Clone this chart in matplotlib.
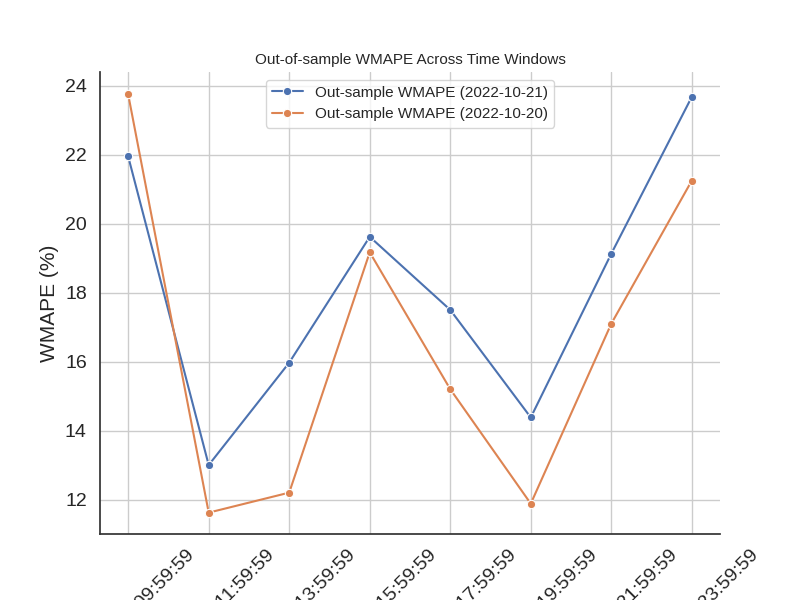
import matplotlib
matplotlib.use("Agg")
import matplotlib.pyplot as plt
import seaborn as sns

windows = ["2022-10-21 09:59:59", "2022-10-21 11:59:59", "2022-10-21 13:59:59",
           "2022-10-21 15:59:59", "2022-10-21 17:59:59", "2022-10-21 19:59:59",
           "2022-10-21 21:59:59", "2022-10-21 23:59:59"]
wmape_1021 = [21.95, 13.0, 15.97, 19.62, 17.5, 14.38, 19.13, 23.68]
wmape_1020 = [23.75, 11.62, 12.2, 19.17, 15.2, 11.88, 17.1, 21.25]

sns.set_theme(style="white")
plt.rcParams['font.family'] = ['Liberation Sans', 'DejaVu Sans']
fig, ax = plt.subplots(figsize=(8, 6), dpi=100)
x = range(len(windows))
ax.plot(x, wmape_1021, marker='o', markersize=6, markeredgecolor='white', markeredgewidth=0.8,
        color='#4c72b0', label='Out-sample WMAPE (2022-10-21)')
ax.plot(x, wmape_1020, marker='o', markersize=6, markeredgecolor='white', markeredgewidth=0.8,
        color='#dd8452', label='Out-sample WMAPE (2022-10-20)')
ax.grid(True, color='#cccccc')
ax.set_xticks(list(x))
ax.set_xticklabels(windows, rotation=45, fontsize=14, ha='center')
ax.tick_params(axis='y', labelsize=14)
ax.set_ylim(11, 24.4)
ax.set_ylabel('WMAPE (%)', fontsize=15)
ax.set_title('Out-of-sample WMAPE Across Time Windows', fontsize=11)
ax.legend(loc='upper center', fontsize=11)
sns.despine()
for s in ['left', 'bottom']:
    ax.spines[s].set_color('#333333')
fig.subplots_adjust(left=0.125, right=0.9, top=0.88, bottom=0.11)
fig.savefig('out.png')
